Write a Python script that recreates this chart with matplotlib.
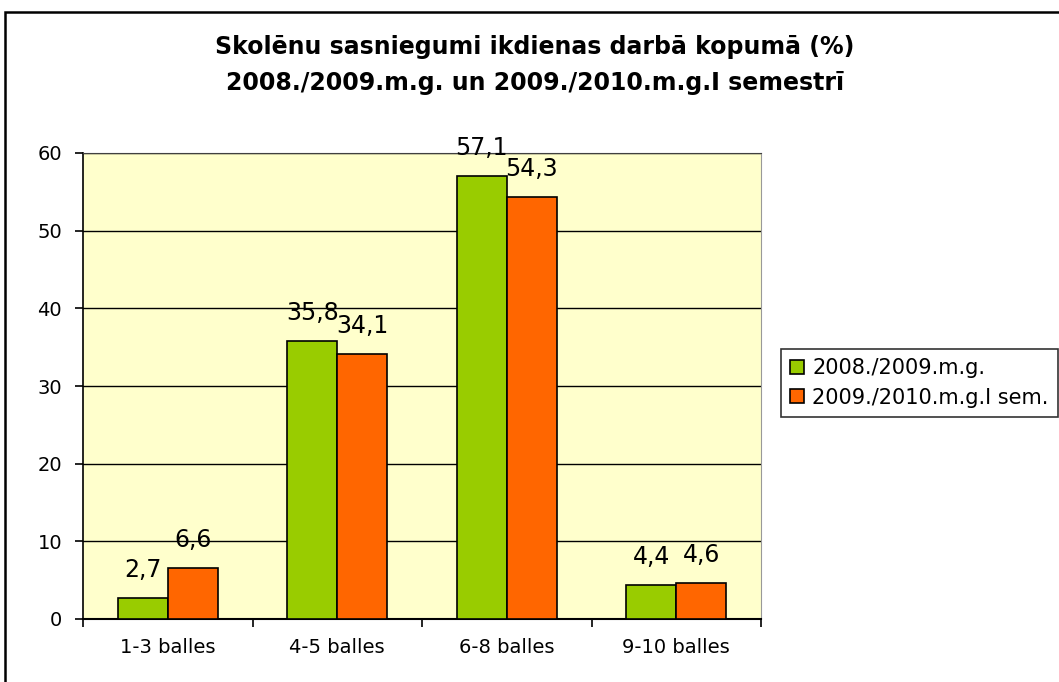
import numpy as np
import matplotlib.pyplot as plt
from matplotlib.patches import Rectangle

plt.rcParams['font.family'] = ['DejaVu Sans']

categories = ['1-3 balles', '4-5 balles', '6-8 balles', '9-10 balles']
series_names = ['2008./2009.m.g.', '2009./2010.m.g.I sem.']
vals_2009 = [2.7, 35.8, 57.1, 4.4]
vals_2010 = [6.6, 34.1, 54.3, 4.6]
y_ticks = [0, 10, 20, 30, 40, 50, 60]

green = '#99CC00'
orange = '#FF6600'

fig = plt.figure(figsize=(10.59, 6.82), dpi=100)
fig.patch.set_facecolor('white')

# outer chart frame (runs off the right and bottom edges)
fig.patches.append(Rectangle((5 / 1059, -0.05), 1.2, (682 - 12) / 682 + 0.05,
                             transform=fig.transFigure, fill=False,
                             edgecolor='black', linewidth=1.8, zorder=0))

ax = fig.add_axes([83 / 1059, 63 / 682, 678 / 1059, 466 / 682])
ax.set_facecolor('#FFFFCC')

x = np.arange(len(categories))
w = 0.295
b1 = ax.bar(x - w / 2, vals_2009, w, color=green, edgecolor='black', linewidth=1.2,
            label=series_names[0], zorder=3)
b2 = ax.bar(x + w / 2, vals_2010, w, color=orange, edgecolor='black', linewidth=1.2,
            label=series_names[1], zorder=3)

for bars, vals in [(b1, vals_2009), (b2, vals_2010)]:
    for rect, v in zip(bars, vals):
        ax.annotate(f'{v:.1f}'.replace('.', ','),
                    (rect.get_x() + rect.get_width() / 2, v),
                    xytext=(0, 16), textcoords='offset pixels',
                    ha='center', va='bottom', fontsize=17, zorder=4)

ax.set_xlim(-0.5, len(categories) - 0.5)
ax.set_ylim(0, 60)
ax.set_yticks(y_ticks)
ax.set_yticklabels([str(t) for t in y_ticks], fontsize=14)
ax.yaxis.grid(True, color='black', linewidth=1.0, zorder=1)
ax.set_axisbelow(True)

# category labels centred, tick marks at group boundaries
ax.set_xticks(x)
ax.set_xticklabels(categories, fontsize=14)
ax.tick_params(axis='x', length=0, pad=14)
ax.set_xticks(np.arange(-0.5, len(categories)), minor=True)
ax.tick_params(axis='x', which='minor', length=6, width=1.2, direction='out')
ax.tick_params(axis='y', length=6, width=1.2, direction='out', pad=9)

ax.spines['left'].set_linewidth(1.2)
ax.spines['bottom'].set_linewidth(1.5)
ax.spines['right'].set_color('#999999')
ax.spines['top'].set_color('#404040')

fig.text(535 / 1059, 1 - 47 / 682, 'Skolēnu sasniegumi ikdienas darbā kopumā (%)',
         ha='center', va='center', fontsize=17, fontweight='bold')
fig.text(535 / 1059, 1 - 83 / 682, '2008./2009.m.g. un 2009./2010.m.g.I semestrī',
         ha='center', va='center', fontsize=17, fontweight='bold')

leg = fig.legend(handles=[b1, b2], labels=series_names, loc='upper left',
                 bbox_to_anchor=(781 / 1059, 1 - 349 / 682), fontsize=15,
                 frameon=True, fancybox=False, edgecolor='black',
                 handlelength=0.65, handleheight=0.65, handletextpad=0.4,
                 borderpad=0.45, labelspacing=0.45, borderaxespad=0)
leg.get_frame().set_linewidth(1.2)

fig.savefig('out.png', dpi=100, facecolor='white')
